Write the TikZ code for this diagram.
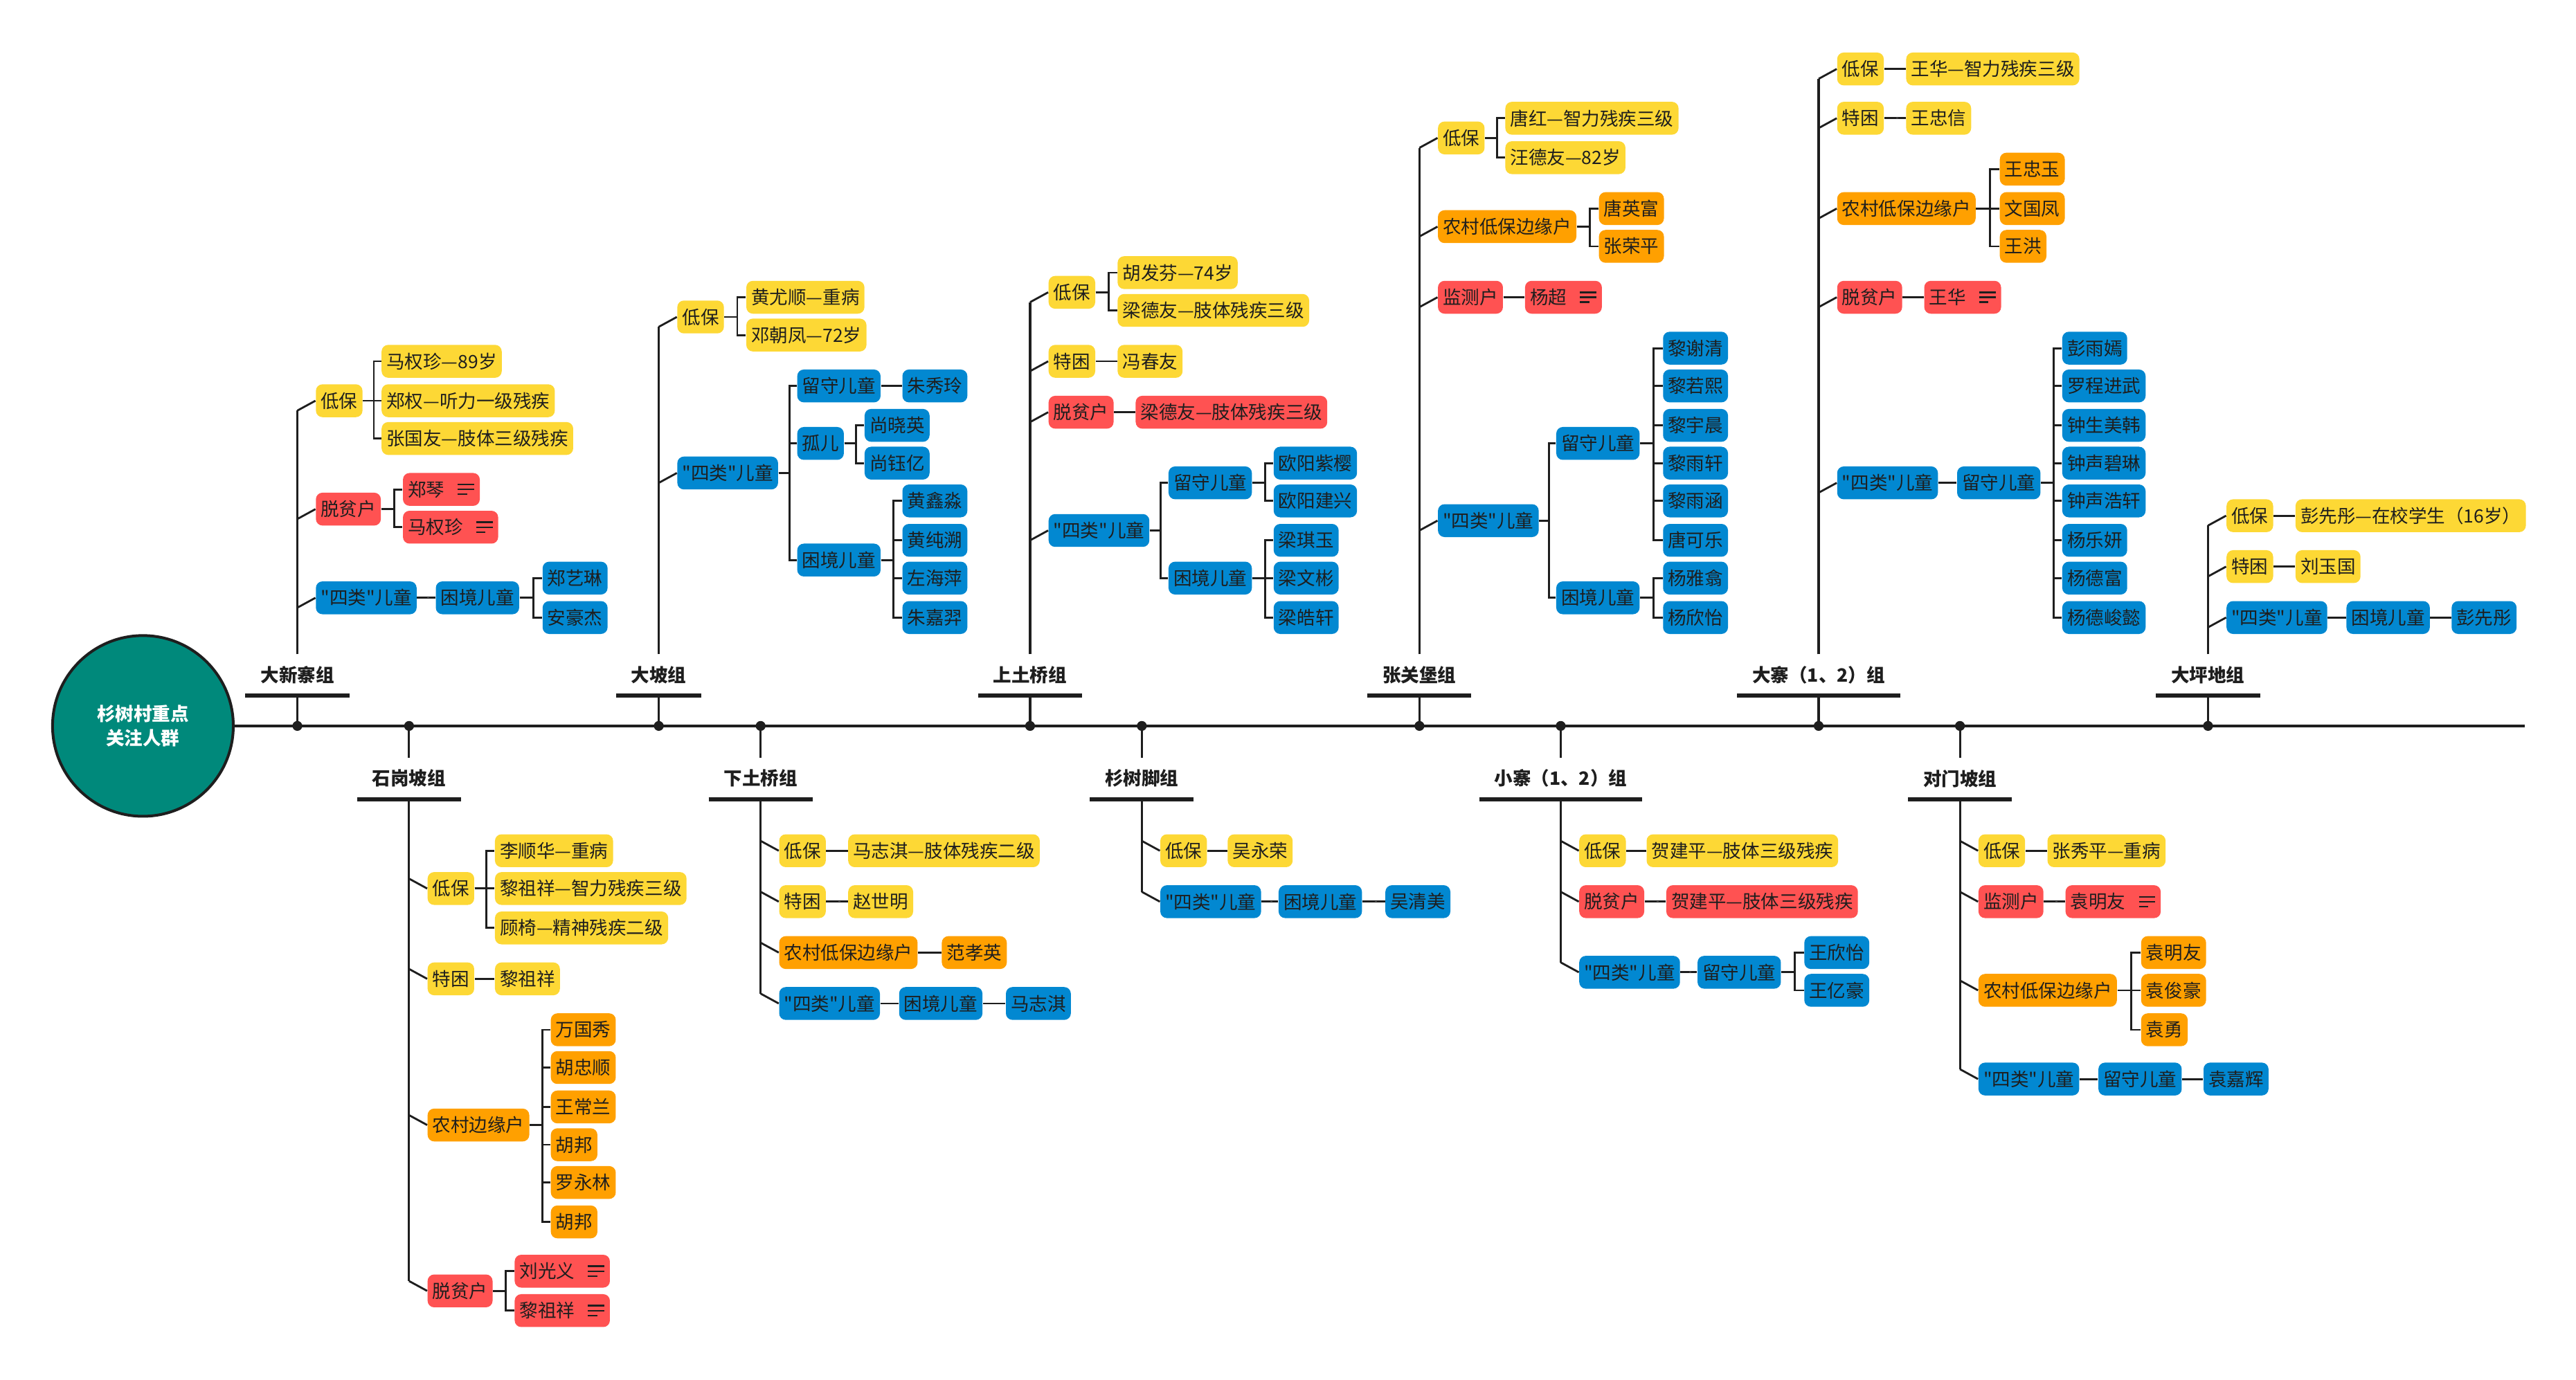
\documentclass[tikz,border=0pt]{standalone}
\usepackage{fontspec}
\setmainfont{Noto Sans CJK SC}[Ligatures=TeXOff]
\usepackage{tikz}
\usetikzlibrary{calc}

\definecolor{ink}{HTML}{1E1E1E}
\definecolor{cyellow}{HTML}{FDD835}
\definecolor{corange}{HTML}{FFA000}
\definecolor{cred}{HTML}{FF5252}
\definecolor{cblue}{HTML}{0288D1}
\definecolor{cteal}{HTML}{00897B}

\newcommand\memospace{\rule{0.46cm}{0pt}}
\newcommand\memo[1]{%
  \draw[ink,line width=0.7pt] ([xshift=-0.34cm,yshift=0.075cm]#1.east) -- ++(0.25cm,0)
    ([xshift=-0.34cm]#1.east) -- ++(0.25cm,0)
    ([xshift=-0.34cm,yshift=-0.075cm]#1.east) -- ++(0.14cm,0);}
\newcommand\tie[2]{\draw[link] (#1.east) -| ($(#1.east)!0.6!(#2.west)$) |- (#2.west);}
\newcommand\uptwig[1]{\draw[link] (#1.west) -- ++(-11,6);}
\newcommand\downtwig[1]{\draw[link] (#1.west) -- ++(-11,-6);}

\begin{document}
\begin{tikzpicture}[x=0.025cm,y=-0.025cm,
  box/.style={anchor=west,rounded corners=0.1cm,inner xsep=0.075cm,inner ysep=0pt,minimum height=0.5cm,text=ink,font=\fontsize{7.95}{9}\selectfont},
  dibao/.style={box,fill=cyellow},
  bianyuan/.style={box,fill=corange},
  tuopin/.style={box,fill=cred},
  ertong/.style={box,fill=cblue},
  grp/.style={text=ink,font=\fontsize{7.95}{9}\selectfont\bfseries,inner xsep=0.225cm,inner ysep=0pt,minimum height=0.615cm},
  link/.style={draw=ink,line width=0.85pt},
  trunk/.style={draw=ink,line width=0.95pt},
  bar/.style={draw=ink,line width=1.8pt},
  spineline/.style={draw=ink,line width=1.4pt}]
\fill[white] (0,0) rectangle (1568,840);
\node[circle,draw=ink,line width=1.2pt,fill=cteal,minimum size=2.75cm,text=white,align=center,font=\fontsize{7.95}{10.6}\selectfont\bfseries] (root) at (87,442) {杉树村重点\\关注人群};
\coordinate (spine) at (1537,442);
\draw[spineline] (root.east) -- (spine);

\node[grp] (dxz) at (181,411) {大新寨组};
\node[grp] (dp) at (401,411) {大坡组};
\node[grp] (stq) at (627,411) {上土桥组};
\node[grp] (zgb) at (864,411) {张关堡组};
\node[grp] (dz) at (1107,411) {大寨（1、2）组};
\node[grp] (dpd) at (1344,411) {大坪地组};
\node[grp] (sgp) at (249,474) {石岗坡组};
\node[grp] (xtq) at (463,474) {下土桥组};
\node[grp] (ssj) at (695,474) {杉树脚组};
\node[grp] (xz) at (950,474) {小寨（1、2）组};
\node[grp] (dmp) at (1193,474) {对门坡组};

% 大新寨组
\node[dibao] (dxz-1) at (192,244) {低保};
\node[dibao] (dxz-11) at (232,220) {马权珍—89岁};
\node[dibao] (dxz-12) at (232,244) {郑权—听力一级残疾};
\node[dibao] (dxz-13) at (232,267) {张国友—肢体三级残疾};
\node[tuopin] (dxz-2) at (192,310) {脱贫户};
\node[tuopin] (dxz-21) at (245,298) {郑琴\memospace};
\node[tuopin] (dxz-22) at (245,321) {马权珍\memospace};
\node[ertong] (dxz-3) at (192,364) {"四类"儿童};
\node[ertong] (dxz-31) at (265,364) {困境儿童};
\node[ertong] (dxz-311) at (330,352) {郑艺琳};
\node[ertong] (dxz-312) at (330,376) {安豪杰};

% 大坡组
\node[dibao] (dp-1) at (412,193) {低保};
\node[dibao] (dp-11) at (454,181) {黄尤顺—重病};
\node[dibao] (dp-12) at (454,204) {邓朝凤—72岁};
\node[ertong] (dp-2) at (412,288) {"四类"儿童};
\node[ertong] (dp-21) at (485,235) {留守儿童};
\node[ertong] (dp-211) at (549,235) {朱秀玲};
\node[ertong] (dp-22) at (485,270) {孤儿};
\node[ertong] (dp-221) at (526,259) {尚晓英};
\node[ertong] (dp-222) at (526,282) {尚钰亿};
\node[ertong] (dp-23) at (485,341) {困境儿童};
\node[ertong] (dp-231) at (549,305) {黄鑫淼};
\node[ertong] (dp-232) at (549,329) {黄纯溯};
\node[ertong] (dp-233) at (549,352) {左海萍};
\node[ertong] (dp-234) at (549,376) {朱嘉羿};

% 上土桥组
\node[dibao] (stq-1) at (638,178) {低保};
\node[dibao] (stq-11) at (680,166) {胡发芬—74岁};
\node[dibao] (stq-12) at (680,189) {梁德友—肢体残疾三级};
\node[dibao] (stq-2) at (638,220) {特困};
\node[dibao] (stq-21) at (680,220) {冯春友};
\node[tuopin] (stq-3) at (638,251) {脱贫户};
\node[tuopin] (stq-31) at (691,251) {梁德友—肢体残疾三级};
\node[ertong] (stq-4) at (638,323) {"四类"儿童};
\node[ertong] (stq-41) at (711,294) {留守儿童};
\node[ertong] (stq-411) at (775,282) {欧阳紫樱};
\node[ertong] (stq-412) at (775,305) {欧阳建兴};
\node[ertong] (stq-42) at (711,352) {困境儿童};
\node[ertong] (stq-421) at (775,329) {梁琪玉};
\node[ertong] (stq-422) at (775,352) {梁文彬};
\node[ertong] (stq-423) at (775,376) {梁皓轩};

% 张关堡组
\node[dibao] (zgb-1) at (875,84) {低保};
\node[dibao] (zgb-11) at (916,72) {唐红—智力残疾三级};
\node[dibao] (zgb-12) at (916,96) {汪德友—82岁};
\node[bianyuan] (zgb-2) at (875,138) {农村低保边缘户};
\node[bianyuan] (zgb-21) at (973,127) {唐英富};
\node[bianyuan] (zgb-22) at (973,150) {张荣平};
\node[tuopin] (zgb-3) at (875,181) {监测户};
\node[tuopin] (zgb-31) at (928,181) {杨超\memospace};
\node[ertong] (zgb-4) at (875,317) {"四类"儿童};
\node[ertong] (zgb-41) at (947,270) {留守儿童};
\node[ertong] (zgb-411) at (1012,212) {黎谢清};
\node[ertong] (zgb-412) at (1012,235) {黎若熙};
\node[ertong] (zgb-413) at (1012,259) {黎宇晨};
\node[ertong] (zgb-414) at (1012,282) {黎雨轩};
\node[ertong] (zgb-415) at (1012,305) {黎雨涵};
\node[ertong] (zgb-416) at (1012,329) {唐可乐};
\node[ertong] (zgb-42) at (947,364) {困境儿童};
\node[ertong] (zgb-421) at (1012,352) {杨雅翕};
\node[ertong] (zgb-422) at (1012,376) {杨欣怡};

% 大寨（1、2）组
\node[dibao] (dz-1) at (1118,42) {低保};
\node[dibao] (dz-11) at (1160,42) {王华—智力残疾三级};
\node[dibao] (dz-2) at (1118,72) {特困};
\node[dibao] (dz-21) at (1160,72) {王忠信};
\node[bianyuan] (dz-3) at (1118,127) {农村低保边缘户};
\node[bianyuan] (dz-31) at (1217,103) {王忠玉};
\node[bianyuan] (dz-32) at (1217,127) {文国凤};
\node[bianyuan] (dz-33) at (1217,150) {王洪};
\node[tuopin] (dz-4) at (1118,181) {脱贫户};
\node[tuopin] (dz-41) at (1171,181) {王华\memospace};
\node[ertong] (dz-5) at (1118,294) {"四类"儿童};
\node[ertong] (dz-51) at (1191,294) {留守儿童};
\node[ertong] (dz-511) at (1255,212) {彭雨嫣};
\node[ertong] (dz-512) at (1255,235) {罗程进武};
\node[ertong] (dz-513) at (1255,259) {钟生美韩};
\node[ertong] (dz-514) at (1255,282) {钟声碧琳};
\node[ertong] (dz-515) at (1255,305) {钟声浩轩};
\node[ertong] (dz-516) at (1255,329) {杨乐妍};
\node[ertong] (dz-517) at (1255,352) {杨德富};
\node[ertong] (dz-518) at (1255,376) {杨德峻懿};

% 大坪地组
\node[dibao] (dpd-1) at (1355,314) {低保};
\node[dibao] (dpd-11) at (1397,314) {彭先彤—在校学生（16岁）};
\node[dibao] (dpd-2) at (1355,345) {特困};
\node[dibao] (dpd-21) at (1397,345) {刘玉国};
\node[ertong] (dpd-3) at (1355,376) {"四类"儿童};
\node[ertong] (dpd-31) at (1428,376) {困境儿童};
\node[ertong] (dpd-311) at (1492,376) {彭先彤};

% 石岗坡组
\node[dibao] (sgp-1) at (260,541) {低保};
\node[dibao] (sgp-11) at (301,518) {李顺华—重病};
\node[dibao] (sgp-12) at (301,541) {黎祖祥—智力残疾三级};
\node[dibao] (sgp-13) at (301,565) {顾椅—精神残疾二级};
\node[dibao] (sgp-2) at (260,596) {特困};
\node[dibao] (sgp-21) at (301,596) {黎祖祥};
\node[bianyuan] (sgp-3) at (260,685) {农村边缘户};
\node[bianyuan] (sgp-31) at (335,627) {万国秀};
\node[bianyuan] (sgp-32) at (335,650) {胡忠顺};
\node[bianyuan] (sgp-33) at (335,674) {王常兰};
\node[bianyuan] (sgp-34) at (335,697) {胡邦};
\node[bianyuan] (sgp-35) at (335,720) {罗永林};
\node[bianyuan] (sgp-36) at (335,744) {胡邦};
\node[tuopin] (sgp-4) at (260,786) {脱贫户};
\node[tuopin] (sgp-41) at (313,774) {刘光义\memospace};
\node[tuopin] (sgp-42) at (313,798) {黎祖祥\memospace};

% 下土桥组
\node[dibao] (xtq-1) at (474,518) {低保};
\node[dibao] (xtq-11) at (516,518) {马志淇—肢体残疾二级};
\node[dibao] (xtq-2) at (474,549) {特困};
\node[dibao] (xtq-21) at (516,549) {赵世明};
\node[bianyuan] (xtq-3) at (474,580) {农村低保边缘户};
\node[bianyuan] (xtq-31) at (573,580) {范孝英};
\node[ertong] (xtq-4) at (474,611) {"四类"儿童};
\node[ertong] (xtq-41) at (547,611) {困境儿童};
\node[ertong] (xtq-411) at (612,611) {马志淇};

% 杉树脚组
\node[dibao] (ssj-1) at (706,518) {低保};
\node[dibao] (ssj-11) at (747,518) {吴永荣};
\node[ertong] (ssj-2) at (706,549) {"四类"儿童};
\node[ertong] (ssj-21) at (778,549) {困境儿童};
\node[ertong] (ssj-211) at (843,549) {吴清美};

% 小寨（1、2）组
\node[dibao] (xz-1) at (961,518) {低保};
\node[dibao] (xz-11) at (1002,518) {贺建平—肢体三级残疾};
\node[tuopin] (xz-2) at (961,549) {脱贫户};
\node[tuopin] (xz-21) at (1014,549) {贺建平—肢体三级残疾};
\node[ertong] (xz-3) at (961,592) {"四类"儿童};
\node[ertong] (xz-31) at (1033,592) {留守儿童};
\node[ertong] (xz-311) at (1098,580) {王欣怡};
\node[ertong] (xz-312) at (1098,603) {王亿豪};

% 对门坡组
\node[dibao] (dmp-1) at (1204,518) {低保};
\node[dibao] (dmp-11) at (1246,518) {张秀平—重病};
\node[tuopin] (dmp-2) at (1204,549) {监测户};
\node[tuopin] (dmp-21) at (1257,549) {袁明友\memospace};
\node[bianyuan] (dmp-3) at (1204,603) {农村低保边缘户};
\node[bianyuan] (dmp-31) at (1303,580) {袁明友};
\node[bianyuan] (dmp-32) at (1303,603) {袁俊豪};
\node[bianyuan] (dmp-33) at (1303,627) {袁勇};
\node[ertong] (dmp-4) at (1204,657) {"四类"儿童};
\node[ertong] (dmp-41) at (1277,657) {留守儿童};
\node[ertong] (dmp-411) at (1341,657) {袁嘉辉};

% memo icons
\memo{dxz-21} \memo{dxz-22} \memo{zgb-31} \memo{dz-41}
\memo{sgp-41} \memo{sgp-42} \memo{dmp-21}

% group stems
\draw[trunk] (dxz.north) -- ([yshift=-0.15cm]dxz.north |- dxz-1.west);
\draw[trunk] (dp.north) -- ([yshift=-0.15cm]dp.north |- dp-1.west);
\draw[trunk] (stq.north) -- ([yshift=-0.15cm]stq.north |- stq-1.west);
\draw[trunk] (zgb.north) -- ([yshift=-0.15cm]zgb.north |- zgb-1.west);
\draw[trunk] (dz.north) -- ([yshift=-0.15cm]dz.north |- dz-1.west);
\draw[trunk] (dpd.north) -- ([yshift=-0.15cm]dpd.north |- dpd-1.west);
\draw[trunk] (sgp.south) -- ([yshift=0.15cm]sgp.south |- sgp-4.west);
\draw[trunk] (xtq.south) -- ([yshift=0.15cm]xtq.south |- xtq-4.west);
\draw[trunk] (ssj.south) -- ([yshift=0.15cm]ssj.south |- ssj-2.west);
\draw[trunk] (xz.south) -- ([yshift=0.15cm]xz.south |- xz-3.west);
\draw[trunk] (dmp.south) -- ([yshift=0.15cm]dmp.south |- dmp-4.west);

\draw[trunk] (dxz.south) -- (dxz.south |- spine);
\draw[trunk] (dp.south) -- (dp.south |- spine);
\draw[trunk] (stq.south) -- (stq.south |- spine);
\draw[trunk] (zgb.south) -- (zgb.south |- spine);
\draw[trunk] (dz.south) -- (dz.south |- spine);
\draw[trunk] (dpd.south) -- (dpd.south |- spine);
\draw[trunk] (sgp.north) -- (sgp.north |- spine);
\draw[trunk] (xtq.north) -- (xtq.north |- spine);
\draw[trunk] (ssj.north) -- (ssj.north |- spine);
\draw[trunk] (xz.north) -- (xz.north |- spine);
\draw[trunk] (dmp.north) -- (dmp.north |- spine);

\draw[bar] (dxz.south west) -- (dxz.south east);
\draw[bar] (dp.south west) -- (dp.south east);
\draw[bar] (stq.south west) -- (stq.south east);
\draw[bar] (zgb.south west) -- (zgb.south east);
\draw[bar] (dz.south west) -- (dz.south east);
\draw[bar] (dpd.south west) -- (dpd.south east);
\draw[bar] (sgp.south west) -- (sgp.south east);
\draw[bar] (xtq.south west) -- (xtq.south east);
\draw[bar] (ssj.south west) -- (ssj.south east);
\draw[bar] (xz.south west) -- (xz.south east);
\draw[bar] (dmp.south west) -- (dmp.south east);

\fill[ink] (dxz.south |- spine) circle (0.075cm);
\fill[ink] (dp.south |- spine) circle (0.075cm);
\fill[ink] (stq.south |- spine) circle (0.075cm);
\fill[ink] (zgb.south |- spine) circle (0.075cm);
\fill[ink] (dz.south |- spine) circle (0.075cm);
\fill[ink] (dpd.south |- spine) circle (0.075cm);
\fill[ink] (sgp.north |- spine) circle (0.075cm);
\fill[ink] (xtq.north |- spine) circle (0.075cm);
\fill[ink] (ssj.north |- spine) circle (0.075cm);
\fill[ink] (xz.north |- spine) circle (0.075cm);
\fill[ink] (dmp.north |- spine) circle (0.075cm);

% twigs
\uptwig{dxz-1} \uptwig{dxz-2} \uptwig{dxz-3}
\uptwig{dp-1} \uptwig{dp-2}
\uptwig{stq-1} \uptwig{stq-2} \uptwig{stq-3} \uptwig{stq-4}
\uptwig{zgb-1} \uptwig{zgb-2} \uptwig{zgb-3} \uptwig{zgb-4}
\uptwig{dz-1} \uptwig{dz-2} \uptwig{dz-3} \uptwig{dz-4} \uptwig{dz-5}
\uptwig{dpd-1} \uptwig{dpd-2} \uptwig{dpd-3}
\downtwig{sgp-1} \downtwig{sgp-2} \downtwig{sgp-3} \downtwig{sgp-4}
\downtwig{xtq-1} \downtwig{xtq-2} \downtwig{xtq-3} \downtwig{xtq-4}
\downtwig{ssj-1} \downtwig{ssj-2}
\downtwig{xz-1} \downtwig{xz-2} \downtwig{xz-3}
\downtwig{dmp-1} \downtwig{dmp-2} \downtwig{dmp-3} \downtwig{dmp-4}

% ties
\tie{dxz-1}{dxz-11} \tie{dxz-1}{dxz-12} \tie{dxz-1}{dxz-13}
\tie{dxz-2}{dxz-21} \tie{dxz-2}{dxz-22}
\tie{dxz-3}{dxz-31} \tie{dxz-31}{dxz-311} \tie{dxz-31}{dxz-312}
\tie{dp-1}{dp-11} \tie{dp-1}{dp-12}
\tie{dp-2}{dp-21} \tie{dp-2}{dp-22} \tie{dp-2}{dp-23}
\tie{dp-21}{dp-211} \tie{dp-22}{dp-221} \tie{dp-22}{dp-222}
\tie{dp-23}{dp-231} \tie{dp-23}{dp-232} \tie{dp-23}{dp-233} \tie{dp-23}{dp-234}
\tie{stq-1}{stq-11} \tie{stq-1}{stq-12} \tie{stq-2}{stq-21} \tie{stq-3}{stq-31}
\tie{stq-4}{stq-41} \tie{stq-4}{stq-42}
\tie{stq-41}{stq-411} \tie{stq-41}{stq-412}
\tie{stq-42}{stq-421} \tie{stq-42}{stq-422} \tie{stq-42}{stq-423}
\tie{zgb-1}{zgb-11} \tie{zgb-1}{zgb-12}
\tie{zgb-2}{zgb-21} \tie{zgb-2}{zgb-22} \tie{zgb-3}{zgb-31}
\tie{zgb-4}{zgb-41} \tie{zgb-4}{zgb-42}
\tie{zgb-41}{zgb-411} \tie{zgb-41}{zgb-412} \tie{zgb-41}{zgb-413}
\tie{zgb-41}{zgb-414} \tie{zgb-41}{zgb-415} \tie{zgb-41}{zgb-416}
\tie{zgb-42}{zgb-421} \tie{zgb-42}{zgb-422}
\tie{dz-1}{dz-11} \tie{dz-2}{dz-21}
\tie{dz-3}{dz-31} \tie{dz-3}{dz-32} \tie{dz-3}{dz-33} \tie{dz-4}{dz-41}
\tie{dz-5}{dz-51}
\tie{dz-51}{dz-511} \tie{dz-51}{dz-512} \tie{dz-51}{dz-513} \tie{dz-51}{dz-514}
\tie{dz-51}{dz-515} \tie{dz-51}{dz-516} \tie{dz-51}{dz-517} \tie{dz-51}{dz-518}
\tie{dpd-1}{dpd-11} \tie{dpd-2}{dpd-21} \tie{dpd-3}{dpd-31} \tie{dpd-31}{dpd-311}
\tie{sgp-1}{sgp-11} \tie{sgp-1}{sgp-12} \tie{sgp-1}{sgp-13} \tie{sgp-2}{sgp-21}
\tie{sgp-3}{sgp-31} \tie{sgp-3}{sgp-32} \tie{sgp-3}{sgp-33}
\tie{sgp-3}{sgp-34} \tie{sgp-3}{sgp-35} \tie{sgp-3}{sgp-36}
\tie{sgp-4}{sgp-41} \tie{sgp-4}{sgp-42}
\tie{xtq-1}{xtq-11} \tie{xtq-2}{xtq-21} \tie{xtq-3}{xtq-31}
\tie{xtq-4}{xtq-41} \tie{xtq-41}{xtq-411}
\tie{ssj-1}{ssj-11} \tie{ssj-2}{ssj-21} \tie{ssj-21}{ssj-211}
\tie{xz-1}{xz-11} \tie{xz-2}{xz-21} \tie{xz-3}{xz-31}
\tie{xz-31}{xz-311} \tie{xz-31}{xz-312}
\tie{dmp-1}{dmp-11} \tie{dmp-2}{dmp-21}
\tie{dmp-3}{dmp-31} \tie{dmp-3}{dmp-32} \tie{dmp-3}{dmp-33}
\tie{dmp-4}{dmp-41} \tie{dmp-41}{dmp-411}
\end{tikzpicture}
\end{document}
